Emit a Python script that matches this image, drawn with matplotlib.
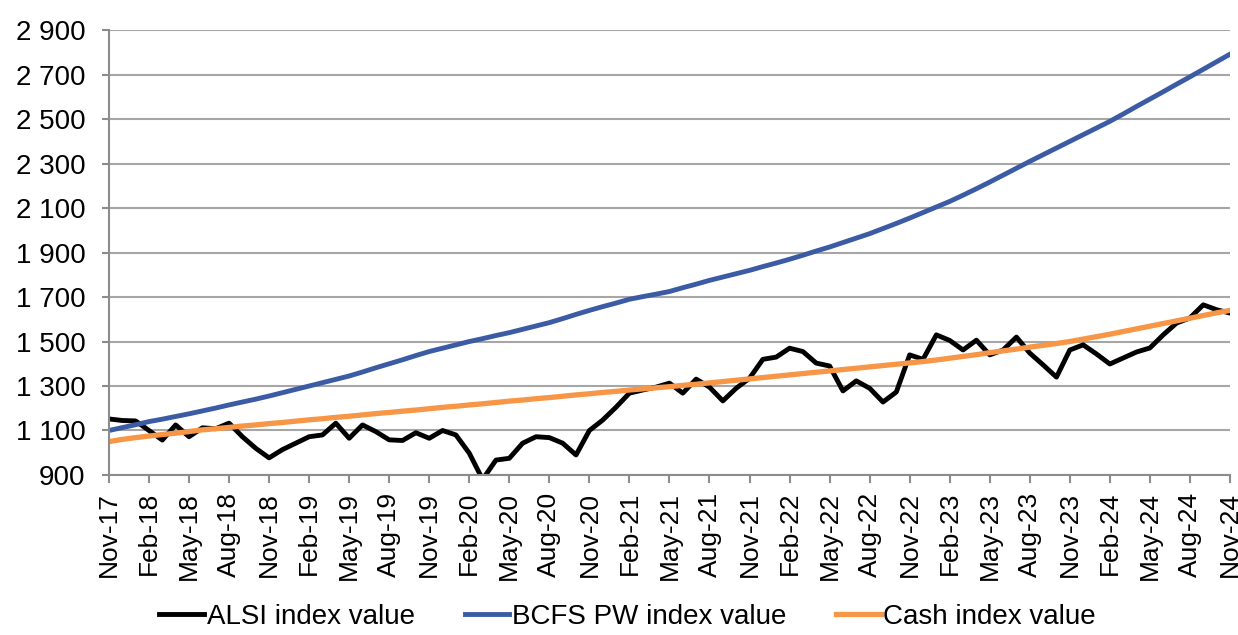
import numpy as np
import matplotlib
matplotlib.use('Agg')
import matplotlib.pyplot as plt

plt.rcParams['font.family'] = ['Liberation Sans', 'DejaVu Sans']

# monthly index values, Nov-17 .. Nov-24
months = ['Nov', 'Dec', 'Jan', 'Feb', 'Mar', 'Apr', 'May', 'Jun', 'Jul', 'Aug', 'Sep', 'Oct']
dates = []
yr = 17
for k in range(85):
    m = months[k % 12]
    if m == 'Jan':
        yr += 1
    dates.append(m + '-' + str(yr))

alsi = [1152, 1145, 1143, 1100, 1057, 1125, 1072, 1112, 1108, 1133, 1072, 1020,
        977, 1014, 1043, 1072, 1080, 1133, 1065, 1125, 1095, 1058, 1055, 1090,
        1065, 1100, 1080, 998, 880, 967, 975, 1043, 1072, 1068, 1043, 990,
        1100, 1147, 1205, 1268, 1282, 1295, 1313, 1268, 1331, 1295, 1233, 1290,
        1335, 1420, 1430, 1470, 1455, 1403, 1390, 1278, 1323, 1290, 1228, 1273,
        1440, 1420, 1530, 1505, 1462, 1506, 1440, 1462, 1520, 1448, 1395, 1340,
        1462, 1485, 1444, 1399, 1426, 1453, 1471, 1530, 1583, 1606, 1665, 1643,
        1628]

bcfs = [1100, 1113, 1126, 1140, 1151, 1163, 1175, 1188, 1201, 1215, 1228, 1241,
        1255, 1270, 1285, 1300, 1315, 1330, 1345, 1363, 1382, 1400, 1418, 1437,
        1455, 1470, 1485, 1500, 1513, 1527, 1540, 1555, 1570, 1585, 1603, 1622,
        1640, 1657, 1673, 1690, 1702, 1713, 1725, 1742, 1758, 1775, 1790, 1805,
        1820, 1837, 1853, 1870, 1888, 1907, 1925, 1945, 1965, 1985, 2008, 2031,
        2055, 2080, 2105, 2130, 2158, 2187, 2217, 2248, 2279, 2310, 2340, 2370,
        2400, 2430, 2460, 2490, 2523, 2557, 2590, 2623, 2657, 2690, 2724, 2758,
        2792]

cash = [1050, 1060, 1068, 1075, 1082, 1088, 1095, 1103, 1108, 1114, 1120, 1125,
        1131, 1136, 1142, 1148, 1153, 1159, 1164, 1170, 1176, 1181, 1187, 1192,
        1198, 1204, 1209, 1215, 1220, 1226, 1232, 1237, 1243, 1248, 1254, 1260,
        1265, 1271, 1276, 1282, 1287, 1292, 1297, 1303, 1308, 1314, 1320, 1326,
        1332, 1338, 1344, 1350, 1356, 1362, 1368, 1374, 1380, 1386, 1392, 1398,
        1404, 1410, 1417, 1425, 1433, 1441, 1450, 1458, 1466, 1475, 1483, 1491,
        1500, 1511, 1522, 1533, 1545, 1557, 1569, 1581, 1593, 1605, 1617, 1629,
        1640]

x = np.arange(len(dates))

fig = plt.figure(figsize=(12.38, 6.35), dpi=100)
ax = fig.add_axes([0.088, 0.252, 0.9055, 0.7005])

ax.plot(x, alsi, color='black', linewidth=3.5, label='ALSI index value')
ax.plot(x, bcfs, color='#3B5BA5', linewidth=3.5, label='BCFS PW index value')
ax.plot(x, cash, color='#F79646', linewidth=3.8, label='Cash index value')

ax.set_xlim(0, 84)
ax.set_ylim(900, 2900)
yt = np.arange(900, 2901, 200)
ax.set_yticks(yt)
ax.set_yticklabels([f'{v:,}'.replace(',', ' ') for v in yt], fontsize=20)
ax.set_xticks(x[::3])
ax.set_xticklabels(dates[::3], rotation=90, fontsize=19)

ax.grid(axis='y', color='#A6A6A6', linewidth=1.5)
ax.set_axisbelow(True)
for s in ['top', 'right']:
    ax.spines[s].set_visible(False)
for s in ['left', 'bottom']:
    ax.spines[s].set_color('#8C8C8C')
    ax.spines[s].set_linewidth(1.5)
ax.tick_params(axis='y', length=5, width=1.5, color='#8C8C8C', pad=12)
ax.tick_params(axis='x', length=6, width=1.5, color='#8C8C8C', pad=6)

fig.legend(loc='center', bbox_to_anchor=(0.507, 0.028), ncol=3, frameon=False,
           fontsize=20, handlelength=1.6, handletextpad=0.1, columnspacing=1.8)

fig.savefig('out.png', dpi=100)
